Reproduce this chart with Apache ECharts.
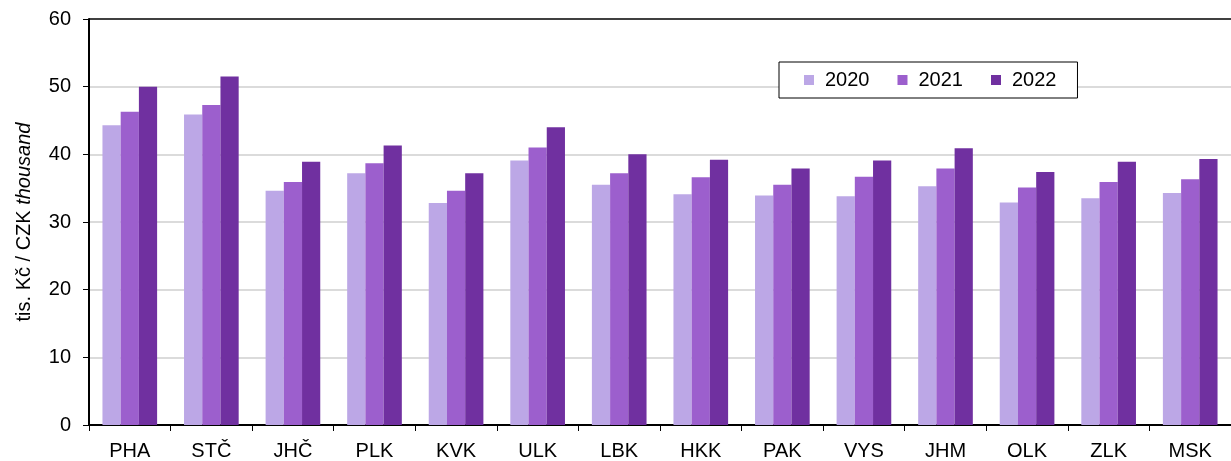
<!DOCTYPE html>
<html>
<head>
<meta charset="utf-8">
<script src="https://cdn.jsdelivr.net/npm/echarts@6/dist/echarts.min.js"></script>
<style>
  html, body { margin: 0; padding: 0; background: #fff; }
  #chart { width: 1231px; height: 461px; }
</style>
</head>
<body>
<div id="chart"></div>
<script>
const categories = ['PHA', 'STČ', 'JHČ', 'PLK', 'KVK', 'ULK', 'LBK', 'HKK', 'PAK', 'VYS', 'JHM', 'OLK', 'ZLK', 'MSK'];
const years = ['2020', '2021', '2022'];
const values2020 = [44.3, 45.9, 34.6, 37.2, 32.8, 39.1, 35.5, 34.1, 33.9, 33.8, 35.3, 32.9, 33.5, 34.3];
const values2021 = [46.3, 47.3, 35.9, 38.7, 34.6, 41.0, 37.2, 36.6, 35.5, 36.7, 37.9, 35.1, 35.9, 36.3];
const values2022 = [50.0, 51.5, 38.9, 41.3, 37.2, 44.0, 40.0, 39.2, 37.9, 39.1, 40.9, 37.4, 38.9, 39.3];
const colors = ['#bca7e6', '#9c5fcd', '#7030a0'];

const chart = echarts.init(document.getElementById('chart'));

const font = 'Liberation Sans, Arial, sans-serif';

const option = {
  animation: false,
  color: colors,
  grid: { left: 89, right: -11, top: 19, bottom: 34, containLabel: false },
  legend: {
    left: 779,
    top: 62,
    orient: 'horizontal',
    backgroundColor: '#fff',
    borderColor: '#000',
    borderWidth: 1,
    padding: [8, 21, 8, 25],
    itemWidth: 10,
    itemHeight: 10,
    itemGap: 28,
    icon: 'rect',
    textStyle: { fontFamily: font, fontSize: 20, color: '#000', padding: [0, 0, 0, 6] },
    data: years
  },
  xAxis: {
    type: 'category',
    data: categories,
    axisLine: { lineStyle: { color: '#000', width: 2 } },
    axisTick: { show: true, length: 6, lineStyle: { color: '#000', width: 1 } },
    axisLabel: { fontFamily: font, fontSize: 20, color: '#000', margin: 16 }
  },
  yAxis: {
    type: 'value',
    min: 0,
    max: 60,
    interval: 10,
    name: '{n|tis. Kč / CZK }{i|thousand}',
    nameLocation: 'middle',
    nameGap: 55,
    nameRotate: 90,
    nameTextStyle: {
      rich: {
        n: { fontFamily: font, fontSize: 20, color: '#000' },
        i: { fontFamily: font, fontSize: 20, color: '#000', fontStyle: 'italic' }
      }
    },
    axisLine: { show: true, lineStyle: { color: '#000', width: 2 } },
    axisTick: { show: true, length: 6, lineStyle: { color: '#000', width: 1 } },
    axisLabel: { fontFamily: font, fontSize: 20, color: '#000', margin: 18 },
    splitLine: {
      show: true,
      lineStyle: { color: ['#cfcfcf', '#cfcfcf', '#cfcfcf', '#cfcfcf', '#cfcfcf', '#cfcfcf', '#000'], width: 1.5 }
    }
  },
  series: [
    { name: years[0], type: 'bar', data: values2020, barGap: '0%', barCategoryGap: '33%',
      itemStyle: { color: colors[0] } },
    { name: years[1], type: 'bar', data: values2021, barGap: '0%', barCategoryGap: '33%',
      itemStyle: { color: colors[1] } },
    { name: years[2], type: 'bar', data: values2022, barGap: '0%', barCategoryGap: '33%',
      itemStyle: { color: colors[2] } }
  ]
};

chart.setOption(option);
window.addEventListener('resize', () => chart.resize());
</script>
</body>
</html>
